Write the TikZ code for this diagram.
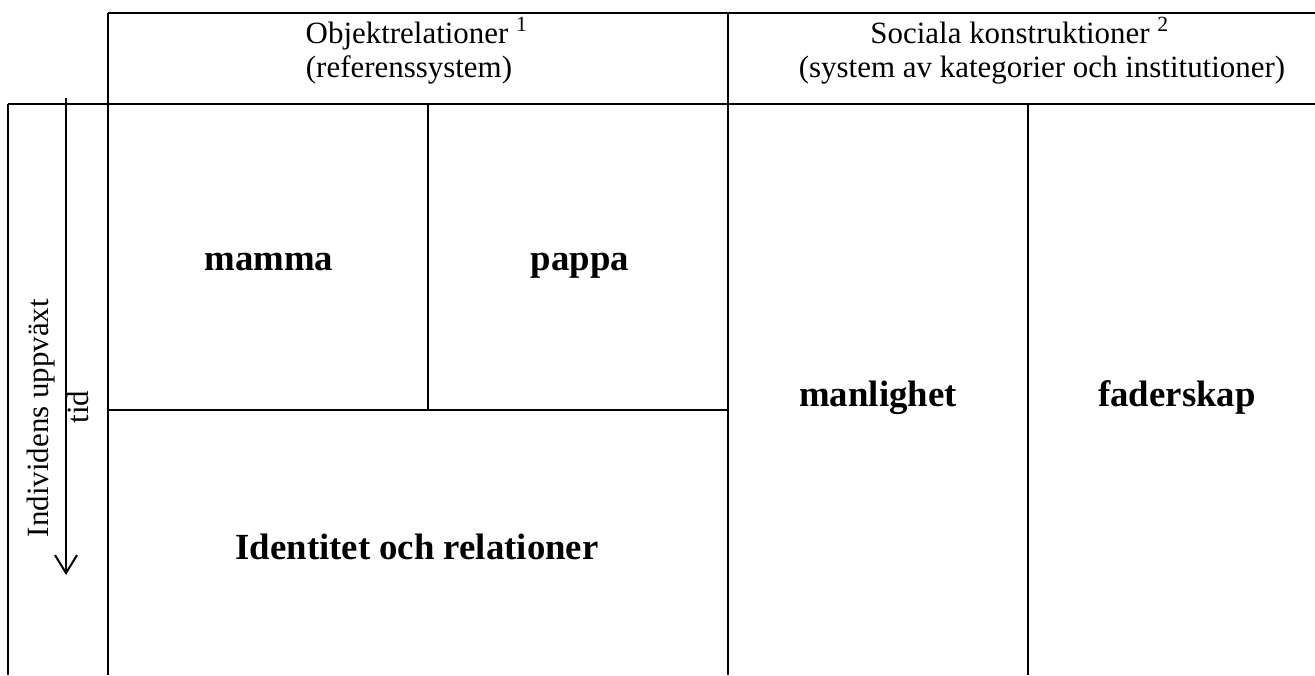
\documentclass[tikz,border=0pt]{standalone}
\usepackage{fontspec}
\setmainfont{Liberation Serif}
\usetikzlibrary{arrows.meta}
\tikzset{
  rubrik/.style={font=\fontsize{11.6}{13}\selectfont, anchor=base, inner sep=0pt},
  falt/.style={font=\fontsize{13.8}{16}\selectfont\bfseries, anchor=base, inner sep=0pt},
  linje/.style={line width=0.75pt},
}
\begin{document}
\begin{tikzpicture}[x=0.375pt,y=-0.375pt]
    \useasboundingbox (0,0) rectangle (1315,675);
    \draw[linje] (108,13) -- (1315,13);
    \draw[linje] (8,104) -- (1315,104);
    \draw[linje] (8,104) -- (8,675);
    \draw[linje] (108,13) -- (108,675);
    \draw[linje] (728,13) -- (728,675);
    \draw[linje] (1028,104) -- (1028,675);
    \draw[linje] (428,104) -- (428,410);
    \draw[linje] (108,410) -- (728,410);

    \coordinate (tidstart) at (66,98);
    \coordinate (tidslut) at (66,575);
    \draw[linje, -{Straight Barb[length=6.75pt,width=8.25pt]}] (tidstart) -- (tidslut);

    \node[rubrik] (objrel) at (417,43) {Objektrelationer \textsuperscript{1}};
    \node[rubrik] (refsys) at (409,77) {(referenssystem)};
    \node[rubrik] (sockon) at (1020,43) {Sociala konstruktioner \textsuperscript{2}};
    \node[rubrik] (katinst) at (1042,77) {(system av kategorier och institutioner)};

    \node[rubrik, rotate=90] (uppvaxt) at (48,418) {Individens uppväxt};
    \node[rubrik, rotate=90] (tid) at (88,407) {tid};

    \node[falt] (mamma) at (269,270) {mamma};
    \node[falt] (pappa) at (580,270) {pappa};
    \node[falt] (manlighet) at (878,406) {manlighet};
    \node[falt] (faderskap) at (1177,406) {faderskap};
    \node[falt] (identitet) at (417,559) {Identitet och relationer};
\end{tikzpicture}
\end{document}
